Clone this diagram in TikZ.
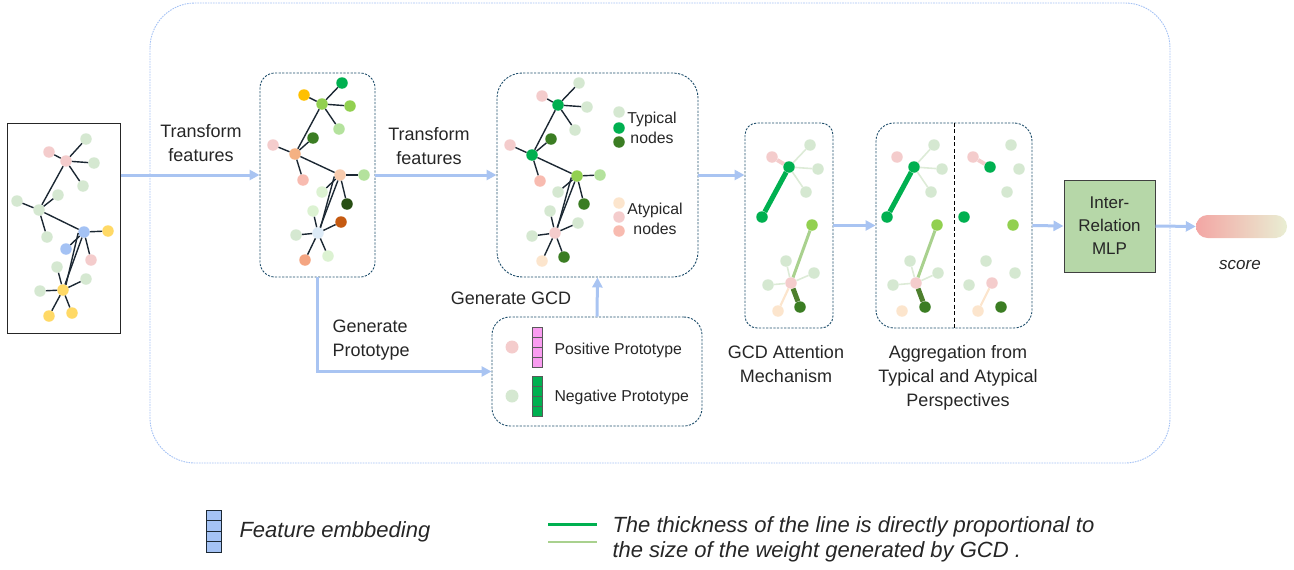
\documentclass[tikz,border=0pt]{standalone}
\usepackage{fontspec}
\setmainfont{Liberation Sans}
\usetikzlibrary{arrows.meta,calc}

\definecolor{edgec}{HTML}{1C2833}
\definecolor{boxc}{HTML}{1F4E6B}
\definecolor{flowc}{HTML}{A9C4F2}
\definecolor{framec}{HTML}{A4C2F4}
\definecolor{textc}{HTML}{262626}
\definecolor{lg}{HTML}{D5E8D1}
\definecolor{pale}{HTML}{DCF2D2}
\definecolor{pinkn}{HTML}{F4CCCC}
\definecolor{bluen}{HTML}{A4C2F4}
\definecolor{yelln}{HTML}{FFD966}
\definecolor{gre}{HTML}{00B050}
\definecolor{lime}{HTML}{92D050}
\definecolor{limeb}{HTML}{B4E29D}
\definecolor{dgre}{HTML}{3B7D23}
\definecolor{dkgr}{HTML}{274E13}
\definecolor{beig}{HTML}{FCE5CD}
\definecolor{salm}{HTML}{F8BBB0}
\definecolor{orangen}{HTML}{F4B183}
\definecolor{peach}{HTML}{F8CBAD}
\definecolor{brown}{HTML}{C55A11}
\definecolor{paleblue}{HTML}{DDEBF7}
\definecolor{orangeb}{HTML}{F4A582}
\definecolor{gold}{HTML}{FFC000}
\definecolor{mlpc}{HTML}{B6D7A8}
\definecolor{posc}{HTML}{F99CF0}
\definecolor{cellc}{HTML}{595959}
\definecolor{wpale}{HTML}{DDEBD7}
\definecolor{wmid}{HTML}{A9D18E}
\definecolor{wdark}{HTML}{4E7F2E}
\definecolor{scoreL}{HTML}{F3A6A4}
\definecolor{scoreR}{HTML}{E9EED3}

\tikzset{
  gn/.style={circle, inner sep=0pt, minimum size=11.5pt},
  ed/.style={draw=edgec, line width=1.4pt},
  panel/.style={draw=boxc, line width=0.9pt, dash pattern=on 2.2pt off 1.4pt},
  flow/.style={draw=flowc, line width=3pt, -{Triangle[length=10pt,width=10pt]}},
  lab/.style={font=\fontsize{18}{24}\selectfont, align=center, text=textc},
  small/.style={font=\fontsize{15.8}{20}\selectfont, text=textc},
  legend/.style={font=\fontsize{22}{25}\selectfont\itshape, text=textc, align=left},
  cell/.style={draw=cellc, line width=0.8pt},
}

\begin{document}
\begin{tikzpicture}[x=1pt,y=-1pt]
\useasboundingbox (0,0) rectangle (1294,570);

% outer frame
\draw[framec, line width=0.9pt, dash pattern=on 1.6pt off 1pt, rounded corners=45pt]
  (150,3) rectangle (1170,463);

% panels
\node[draw=black!85, line width=1pt, minimum width=113pt, minimum height=210pt, inner sep=0pt] (inbox) at (63.5,228) {};
\node[panel, rounded corners=15pt, minimum width=115pt, minimum height=204pt, inner sep=0pt] (box2) at (317.5,175) {};
\node[panel, rounded corners=25pt, minimum width=201pt, minimum height=204pt, inner sep=0pt] (box3) at (597.5,175) {};
\node[panel, rounded corners=12pt, minimum width=88pt, minimum height=205pt, inner sep=0pt] (box4) at (789,225.5) {};
\node[panel, rounded corners=18pt, minimum width=156pt, minimum height=205pt, inner sep=0pt] (box5) at (954,225.5) {};
\node[panel, rounded corners=18pt, minimum width=210pt, minimum height=109pt, inner sep=0pt] (box6) at (597,371.5) {};
\node[draw=black!75, fill=mlpc, line width=1pt, minimum width=91pt, minimum height=92pt, inner sep=0pt,
      font=\fontsize{17}{23}\selectfont, align=center, text=textc] (mlp) at (1109.5,226) {Inter-\\Relation\\MLP};
\node[minimum width=91pt, minimum height=23pt, inner sep=0pt, rounded corners=11.5pt,
      left color=scoreL, right color=scoreR] (score) at (1241.5,226.5) {};
\draw[black, line width=1pt, dash pattern=on 4pt off 2.5pt] (box5.north) -- (box5.south);

% input graph
\foreach \n/\x/\y/\c in {
  a1/66/161/pinkn, a2/49/152/pinkn, a3/86/139/lg, a4/94/163/lg, a5/83/186/lg,
  a6/39/210/lg, a7/17/201/lg, a8/58/195/lg, a9/47/237/lg, a10/84/232/bluen,
  a11/108/231/yelln, a12/66/249/bluen, a13/91/260/pinkn, a14/63/290/yelln,
  a15/57/267/lg, a16/86/279/lg, a17/40/291/lg, a18/49/316/yelln, a19/72/313/yelln}
  \node[gn, fill=\c] (\n) at (\x,\y) {};
\foreach \a/\b in {a1/a2,a1/a3,a1/a4,a1/a5,a1/a6,a6/a7,a6/a8,a6/a9,a6/a10,
  a10/a11,a10/a12,a10/a13,a10/a14,a14/a15,a14/a16,a14/a17,a14/a18,a14/a19}
  \draw[ed] (\a) -- (\b);
\draw[ed] (a10.190) -- (a14.60);

% graph with transformed features
\foreach \n/\x/\y/\c in {
  c1/342/83/gre, c2/304/95/gold, c3/322/104/lime, c4/350/106/lime, c5/339/129/limeb,
  c6/313/138/dgre, c7/273/145/pinkn, c8/295/154/orangen, c9/303/180/salm, c10/340/175/peach,
  c11/364/175/limeb, c12/322/192/pale, c13/347/204/dkgr, c14/313/211/pale, c15/341/222/brown,
  c16/318/233/paleblue, c17/296/235/lg, c18/328/256/pale, c19/305/260/orangeb}
  \node[gn, fill=\c] (\n) at (\x,\y) {};
\foreach \a/\b in {c3/c1,c3/c2,c3/c4,c3/c5,c3/c8,c8/c6,c8/c7,c8/c9,c8/c10,
  c10/c11,c10/c12,c10/c13,c10/c16,c16/c14,c16/c15,c16/c17,c16/c18,c16/c19}
  \draw[ed] (\a) -- (\b);
\draw[ed] (c10.195) -- (c16.65);

% graph with GCD
\foreach \n/\x/\y/\c in {
  d1/579/83/lg, d2/542/96/pinkn, d3/558/105/gre, d4/587/107/lg, d5/575/130/lg,
  d6/551/139/dgre, d7/510/145/pinkn, d8/532/155/gre, d9/540/181/salm, d10/577/176/lime,
  d11/600/175/limeb, d12/558/192/lg, d13/584/204/dgre, d14/550/211/lg, d15/578/223/lg,
  d16/555/233/pinkn, d17/532/236/lg, d18/542/261/beig, d19/564/257/dgre}
  \node[gn, fill=\c] (\n) at (\x,\y) {};
\foreach \a/\b in {d3/d1,d3/d2,d3/d4,d3/d5,d3/d8,d8/d6,d8/d7,d8/d9,d8/d10,
  d10/d11,d10/d12,d10/d13,d10/d16,d16/d14,d16/d15,d16/d17,d16/d18,d16/d19}
  \draw[ed] (\a) -- (\b);
\draw[ed] (d10.195) -- (d16.65);
\foreach \n/\y/\c in {t1/112/lg, t2/128/gre, t3/142/dgre, t4/203/beig, t5/217/pinkn, t6/231/salm}
  \node[gn, fill=\c] (\n) at (619,\y) {};
\node[small, align=center] (typ) at (652,128) {Typical\\nodes};
\node[small, align=center] (atyp) at (655,219) {Atypical\\nodes};

% GCD attention
\foreach \n/\x/\y/\c in {
  e1/772/157/pinkn, e2/789/167/gre, e3/810/145/lg, e4/818/169/lg, e5/806/192/lg,
  e6/762/217/gre, e7/812/225/lime, e8/786/261/lg, e9/814/273/lg, e10/768/285/lg,
  e11/791/283/pinkn, e12/778/311/beig, e13/800/307/dgre}
  \node[gn, fill=\c] (\n) at (\x,\y) {};
\draw[pinkn, line width=4pt] (e1) -- (e2);
\foreach \b in {e3,e4,e5} \draw[wpale, line width=1.6pt] (e2) -- (\b);
\draw[gre, line width=5pt] (e2) -- (e6);
\draw[wmid, line width=3pt] (e11) -- (e7);
\foreach \b in {e8,e9,e10} \draw[wpale, line width=1.6pt] (e11) -- (\b);
\draw[beig, line width=2.2pt] (e11) -- (e12);
\draw[wdark, line width=5pt] (e11) -- (e13);

% aggregation: typical side
\foreach \n/\x/\y/\c in {
  f1/897/157/pinkn, f2/914/167/gre, f3/934/145/lg, f4/942/169/lg, f5/931/192/lg,
  f6/887/217/gre, f7/937/225/lime, f8/910/261/lg, f9/938/273/lg, f10/893/285/lg,
  f11/916/283/pinkn, f12/902/311/beig, f13/925/307/dgre}
  \node[gn, fill=\c] (\n) at (\x,\y) {};
\foreach \b in {f3,f4,f5} \draw[wpale, line width=1.6pt] (f2) -- (\b);
\draw[gre, line width=5pt] (f2) -- (f6);
\draw[wmid, line width=3pt] (f11) -- (f7);
\foreach \b in {f8,f9,f10} \draw[wpale, line width=1.6pt] (f11) -- (\b);
\draw[wdark, line width=5pt] (f11) -- (f13);

% aggregation: atypical side
\foreach \n/\x/\y/\c in {
  g1/973/157/pinkn, g2/990/167/gre, g3/1011/145/lg, g4/1019/169/lg, g5/1007/192/lg,
  g6/964/217/gre, g7/1013/225/lime, g8/986/261/lg, g9/1015/273/lg, g10/969/285/lg,
  g11/992/283/pinkn, g12/978/311/beig, g13/1001/307/dgre}
  \node[gn, fill=\c] (\n) at (\x,\y) {};
\draw[pinkn, line width=4pt] (g1) -- (g2);
\draw[beig, line width=2.2pt] (g11) -- (g12);

% prototypes
\node[gn, minimum size=13pt, fill=pinkn] (pp) at (512,347) {};
\node[gn, minimum size=13pt, fill=lg] (np) at (512,396) {};
\foreach \k in {0,1,2,3} {
  \draw[cell, fill=posc] (532,327+10*\k) rectangle (542,337+10*\k);
  \draw[cell, fill=gre] (532,376+10*\k) rectangle (542,386+10*\k);
}
\node[small, anchor=west] (post) at (551,350) {Positive Prototype};
\node[small, anchor=west] (negt) at (551,397) {Negative Prototype};

% flow arrows
\draw[flow] (inbox.east |- box2.west) -- (box2.west);
\draw[flow] (box2.east) -- (box3.west);
\draw[flow] (box3.east) -- (box4.west |- box3.east);
\draw[flow] (box4.east) -- (box5.west);
\draw[flow] (box5.east) -- (mlp.west);
\draw[flow] (mlp.east) -- (score.west);
\draw[flow] (box2.south) |- (box6.west);
\draw[flow] (box6.north) -- (box3.south);

% step labels
\node[lab] (l1) at (201,143) {Transform\\features};
\node[lab] (l2) at (429,146) {Transform\\features};
\node[lab, align=left, anchor=west] (l3) at (329,340) {Generate\\Prototype};
\node[lab] (l4) at (511,298) {Generate GCD};
\node[lab] (l5) at (786,364) {GCD Attention\\Mechanism};
\node[lab] (l6) at (958,378) {Aggregation from\\Typical and Atypical\\Perspectives};
\node[font=\fontsize{17}{20}\selectfont\itshape, text=textc] (st) at (1240,265) {score};

% legend
\foreach \k in {0,1,2,3}
  \draw[draw=edgec, line width=0.9pt, fill=bluen] (206,510+10.5*\k) rectangle (221,520.5+10.5*\k);
\node[legend, anchor=west] (fe) at (236,532) {Feature embbeding};
\coordinate (w1a) at (548,524);
\coordinate (w1b) at (597,524);
\coordinate (w2a) at (548,542);
\coordinate (w2b) at (597,542);
\draw[gre, line width=3pt] (w1a) -- (w1b);
\draw[wmid, line width=2pt] (w2a) -- (w2b);
\node[legend, anchor=north west] (wt) at (609,513) {The thickness of the line is directly proportional to\\the size of the weight generated by GCD .};
\end{tikzpicture}
\end{document}
